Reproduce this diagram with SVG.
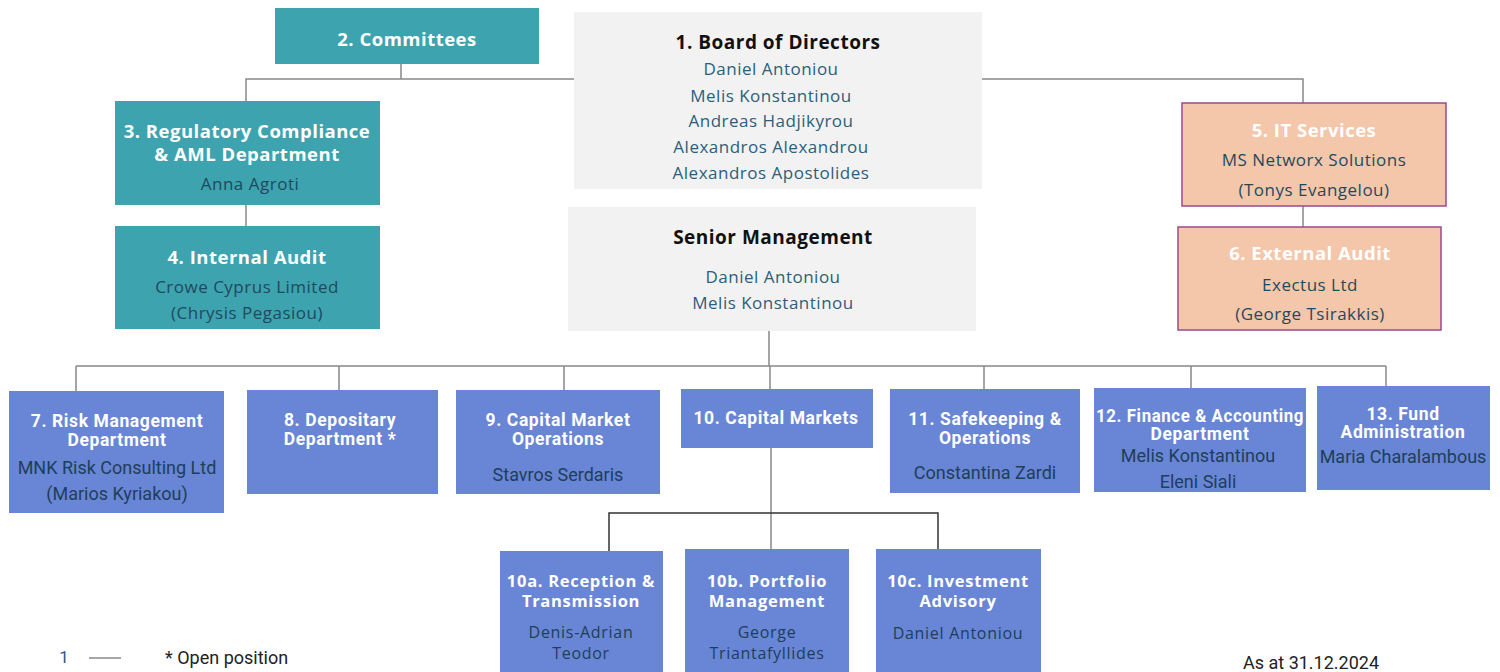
<svg xmlns="http://www.w3.org/2000/svg" width="1500" height="672" viewBox="0 0 1500 672">
<style>
text{dominant-baseline:central;text-anchor:middle}
.teal{fill:#3DA3AE}
.grey{fill:#F2F2F2}
.peach{fill:#F4C6AA;stroke:#9A4A8E;stroke-width:1.5}
.blue{fill:#6985D5}
.tw{font-family:"Open Sans","Liberation Sans",sans-serif;font-weight:700;font-size:18.5px;letter-spacing:0.5px;fill:#FFFFFF}
.tb{font-family:"Open Sans","Liberation Sans",sans-serif;font-weight:700;font-size:19px;letter-spacing:0.5px;fill:#111111}
.nm{font-family:"Open Sans","Liberation Sans",sans-serif;font-size:17px;letter-spacing:0.5px;fill:#1F4A5E}
.bn{font-family:"Open Sans","Liberation Sans",sans-serif;font-size:17px;letter-spacing:0.5px;fill:#2B5F7C}
.rt{font-family:Roboto,"Liberation Sans",sans-serif;font-weight:700;font-size:17.5px;letter-spacing:0.6px;fill:#FFFFFF}
.rn{font-family:Roboto,"Liberation Sans",sans-serif;font-size:18px;fill:#1E3F5A}
.st{font-family:"Open Sans","Liberation Sans",sans-serif;font-weight:700;font-size:16.5px;letter-spacing:0.7px;fill:#FFFFFF}
.sn{font-family:"Open Sans","Liberation Sans",sans-serif;font-size:16px;letter-spacing:0.7px;fill:#1E3F5A}
.ft{font-family:Roboto,"Liberation Sans",sans-serif;font-size:18px;fill:#222222;text-anchor:start}
.c{fill:none;stroke:#888888;stroke-width:1.5}
.k{fill:none;stroke:#333333;stroke-width:1.5}
</style>
<g id="connectors">
<path class="c" d="M401 64V79M246 101V79H574M982 79H1303V103"/>
<path class="c" d="M246 205V226M1303 206V227"/>
<path class="c" d="M769 331V366M76 366H1386M76 366V391M339 366V390M564 366V390M770 366V389M984 366V389M1191 366V388M1386 366V386"/>
<path class="c" d="M771 448V549"/>
<path class="k" d="M609 551V513H938V549"/>
</g>
<g id="n1"><rect class="grey" x="574" y="12" width="408" height="177"/>
<text class="tb" x="778" y="42">1. Board of Directors</text>
<text class="bn" x="771" y="68">Daniel Antoniou</text>
<text class="bn" x="771" y="95">Melis Konstantinou</text>
<text class="bn" x="771" y="120">Andreas Hadjikyrou</text>
<text class="bn" x="771" y="146">Alexandros Alexandrou</text>
<text class="bn" x="771" y="172">Alexandros Apostolides</text></g>
<g id="sm"><rect class="grey" x="568" y="207" width="408" height="124"/>
<text class="tb" x="773" y="237">Senior Management</text>
<text class="bn" x="773" y="276">Daniel Antoniou</text>
<text class="bn" x="773" y="302">Melis Konstantinou</text></g>
<g id="n2"><rect class="teal" x="275" y="8" width="264" height="56"/>
<text class="tw" x="407" y="38">2. Committees</text></g>
<g id="n3"><rect class="teal" x="115" y="101" width="265" height="104"/>
<text class="tw" x="247" y="130">3. Regulatory Compliance</text>
<text class="tw" x="247" y="153">&amp; AML Department</text>
<text class="nm" x="250" y="183">Anna Agroti</text></g>
<g id="n4"><rect class="teal" x="115" y="226" width="265" height="103"/>
<text class="tw" x="247" y="256">4. Internal Audit</text>
<text class="nm" x="247" y="286">Crowe Cyprus Limited</text>
<text class="nm" x="247" y="312">(Chrysis Pegasiou)</text></g>
<g id="n5"><rect class="peach" x="1182" y="103" width="264" height="103"/>
<text class="tw" x="1314" y="129">5. IT Services</text>
<text class="nm" x="1314" y="159">MS Networx Solutions</text>
<text class="nm" x="1314" y="189">(Tonys Evangelou)</text></g>
<g id="n6"><rect class="peach" x="1178" y="227" width="263" height="103"/>
<text class="tw" x="1310" y="252">6. External Audit</text>
<text class="nm" x="1310" y="284">Exectus Ltd</text>
<text class="nm" x="1310" y="313">(George Tsirakkis)</text></g>
<g id="n7"><rect class="blue" x="9" y="391" width="215" height="122"/>
<text class="rt" x="117" y="421">7. Risk Management</text>
<text class="rt" x="117" y="440">Department</text>
<text class="rn" x="117" y="467">MNK Risk Consulting Ltd</text>
<text class="rn" x="117" y="493">(Marios Kyriakou)</text></g>
<g id="n8"><rect class="blue" x="247" y="390" width="191" height="104"/>
<text class="rt" x="340" y="420">8. Depositary</text>
<text class="rt" x="340" y="439">Department *</text></g>
<g id="n9"><rect class="blue" x="456" y="390" width="204" height="104"/>
<text class="rt" x="558" y="420">9. Capital Market</text>
<text class="rt" x="558" y="439">Operations</text>
<text class="rn" x="558" y="474">Stavros Serdaris</text></g>
<g id="n10"><rect class="blue" x="681" y="389" width="192" height="59"/>
<text class="rt" x="776" y="418">10. Capital Markets</text></g>
<g id="n11"><rect class="blue" x="890" y="389" width="190" height="104"/>
<text class="rt" x="985" y="419">11. Safekeeping &amp;</text>
<text class="rt" x="985" y="438">Operations</text>
<text class="rn" x="985" y="472">Constantina Zardi</text></g>
<g id="n12"><rect class="blue" x="1094" y="388" width="212" height="104"/>
<text class="rt" x="1200" y="416" textLength="208" lengthAdjust="spacingAndGlyphs">12. Finance &amp; Accounting</text>
<text class="rt" x="1200" y="434">Department</text>
<text class="rn" x="1198" y="455">Melis Konstantinou</text>
<text class="rn" x="1198" y="481">Eleni Siali</text></g>
<g id="n13"><rect class="blue" x="1317" y="386" width="173" height="104"/>
<text class="rt" x="1403" y="414">13. Fund</text>
<text class="rt" x="1403" y="432">Administration</text>
<text class="rn" x="1403" y="456">Maria Charalambous</text></g>
<g id="n10a"><rect class="blue" x="500" y="551" width="163" height="125"/>
<text class="st" x="581" y="580">10a. Reception &amp;</text>
<text class="st" x="581" y="600">Transmission</text>
<text class="sn" x="581" y="632">Denis-Adrian</text>
<text class="sn" x="581" y="653">Teodor</text></g>
<g id="n10b"><rect class="blue" x="685" y="549" width="164" height="127"/>
<text class="st" x="767" y="580">10b. Portfolio</text>
<text class="st" x="767" y="600">Management</text>
<text class="sn" x="767" y="632">George</text>
<text class="sn" x="767" y="653">Triantafyllides</text></g>
<g id="n10c"><rect class="blue" x="876" y="549" width="165" height="127"/>
<text class="st" x="958" y="580">10c. Investment</text>
<text class="st" x="958" y="600">Advisory</text>
<text class="sn" x="958" y="633">Daniel Antoniou</text></g>
<g id="legend">
<text x="64" y="657" style="font-family:Roboto,'Liberation Sans',sans-serif;font-size:17px;fill:#2A5A8A">1</text>
<line x1="89" y1="658" x2="121" y2="658" stroke="#888888" stroke-width="1.5"/>
<text class="ft" x="165" y="657">* Open position</text>
<text class="ft" x="1243" y="662">As at 31.12.2024</text>
</g>
</svg>
